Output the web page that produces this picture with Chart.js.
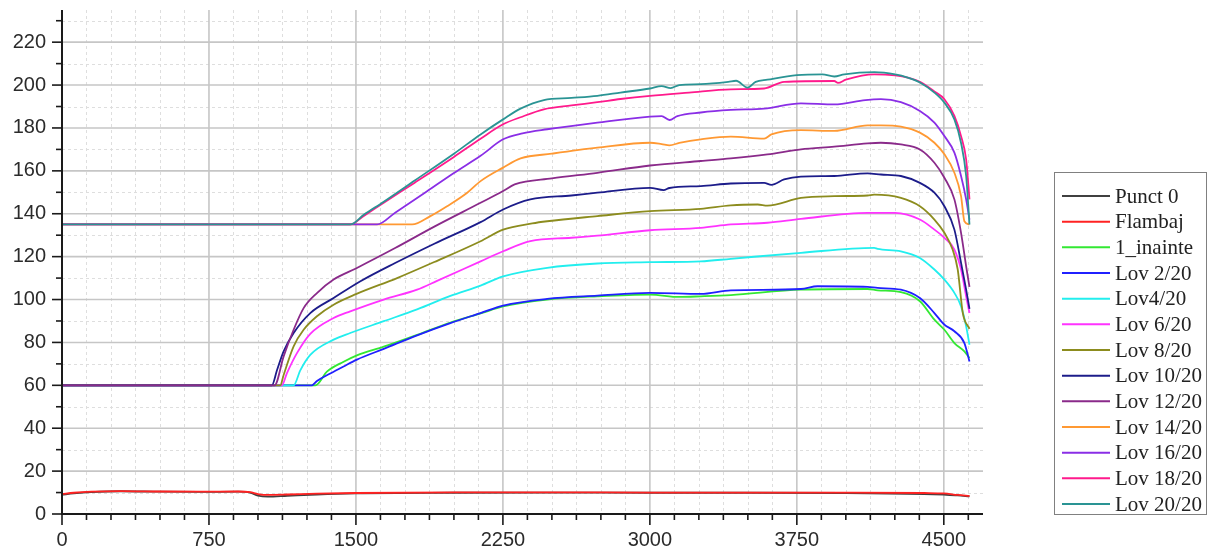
<!DOCTYPE html>
<html>
<head>
<meta charset="utf-8">
<script src="https://cdn.jsdelivr.net/npm/chart.js@4.4.0/dist/chart.umd.min.js"></script>
<style>
  html, body { margin:0; padding:0; background:#fff; }
  canvas { display:block; }
</style>
</head>
<body>
<canvas id="chart" width="1209" height="551"></canvas>
<script>
// Ticks
const xTickLabels = ['0','750','1500','2250','3000','3750','4500'];
const yTickLabels = ['0','20','40','60','80','100','120','140','160','180','200','220'];
const xMinorStep = 125, yMinorStep = 10;

// Series names + colors (legend order)
const seriesNames  = ['Punct 0','Flambaj','1_inainte','Lov 2/20','Lov4/20','Lov 6/20','Lov 8/20','Lov 10/20','Lov 12/20','Lov 14/20','Lov 16/20','Lov 18/20','Lov 20/20'];
const seriesColors = ['#404040','#ff2222','#33e833','#2020ff','#22eeee','#ff33ff','#8c8c1e','#1c1c8a','#8a2a8a','#ff9933','#8a2ee6','#ff1a8c','#2a9494'];

// [x, y] points
const punct0 = [[0,9],[60,9.6],[150,10.2],[300,10.6],[500,10.4],[700,10.3],[900,10.4],[960,10],[1000,8.6],[1050,8.1],[1150,8.5],[1300,9.1],[1500,9.6],[2000,9.9],[2500,10],[3000,9.9],[3500,9.9],[4000,9.8],[4400,9.3],[4500,9],[4570,8.7],[4631,8.2]];
const flambaj = [[0,9.3],[60,9.9],[150,10.4],[300,10.7],[500,10.5],[700,10.4],[900,10.5],[960,10.2],[1000,9.3],[1050,8.9],[1150,9.1],[1300,9.5],[1500,9.8],[2000,10.1],[2500,10.1],[3000,10],[3500,10],[4000,10],[4400,9.8],[4500,9.6],[4570,8.9],[4631,8.4]];
const inainte1 = [[0,60],[1293,60],[1352,66.4],[1437,71],[1505,74],[1642,78],[1812,83.5],[1982,89.3],[2136,93.5],[2251,96.8],[2476,100],[2732,101.5],[3001,102.3],[3150,101.2],[3260,101.5],[3413,102.1],[3771,104.6],[4111,104.9],[4162,104.3],[4281,103.4],[4378,99.2],[4452,90.6],[4503,85.9],[4554,79.7],[4605,75.8],[4631,72.7]];
const lov2 = [[0,60],[1275,60],[1301,62],[1369,65.5],[1437,68.8],[1505,72],[1642,77],[1812,83.3],[1982,89],[2136,93.7],[2251,97.2],[2476,100.3],[2732,101.8],[3001,103.1],[3260,102.6],[3413,104.3],[3771,104.9],[3856,106.2],[4111,105.9],[4162,105.4],[4281,104.6],[4378,100.7],[4452,93.7],[4503,88.3],[4554,85.2],[4605,79.7],[4631,71.1]];
const lov4 = [[0,60],[1182,60],[1216,67],[1267,74.2],[1386,81.3],[1471,84.4],[1642,89.9],[1812,95.4],[1982,101.7],[2136,106.5],[2251,110.8],[2476,114.8],[2732,116.8],[3001,117.4],[3260,117.8],[3413,119],[3771,121.8],[4145,124.1],[4162,123.6],[4281,122.5],[4378,119.4],[4452,114],[4503,109.3],[4554,103.1],[4588,96.8],[4614,87.5],[4631,78.9]];
const lov6 = [[0,60],[1122,60],[1148,65.7],[1199,75],[1267,84],[1386,91.4],[1471,94.5],[1642,100],[1812,104.6],[1914,108.7],[2136,117.8],[2251,122.5],[2390,127.2],[2600,128.8],[2732,129.8],[3001,132.3],[3260,133.4],[3413,135],[3600,135.8],[3771,137.6],[4111,140.4],[4252,140.4],[4378,137.3],[4452,132.6],[4503,128.8],[4554,123.3],[4588,114],[4614,101.5],[4631,93.7]];
const lov8 = [[0,60],[1114,60],[1131,64.8],[1182,78.2],[1233,85.9],[1301,92.2],[1386,97.6],[1500,102.5],[1710,110],[1900,117.5],[2136,127.2],[2251,132.6],[2400,135.5],[2476,136.5],[2732,138.9],[3001,141.2],[3260,142.3],[3413,143.9],[3550,144.3],[3600,143.8],[3771,147.4],[3941,148.2],[4111,148.5],[4145,148.9],[4281,147.4],[4378,143.5],[4452,137.3],[4503,131.1],[4545,123.3],[4571,114],[4597,93.7],[4631,86.3]];
const lov10 = [[0,60],[1071,60],[1097,67],[1131,75.8],[1182,84.4],[1267,93.7],[1386,100.7],[1523,108.5],[1700,117],[1900,126],[2136,136.1],[2251,142],[2390,146.7],[2600,148.5],[2732,149.8],[3001,152.1],[3070,151],[3100,152],[3260,152.9],[3413,154.1],[3583,154.4],[3620,153.5],[3685,156],[3771,157.3],[3941,157.6],[4111,158.8],[4179,158.3],[4281,157.6],[4378,154.4],[4452,149.8],[4503,143.5],[4554,132.6],[4588,117.1],[4614,104.6],[4631,95.6]];
const lov12 = [[0,60],[1085,60],[1131,73.5],[1182,85.9],[1233,96],[1301,103],[1386,109.3],[1500,114.5],[1700,124],[1900,134],[2136,145.1],[2251,150.6],[2310,153.7],[2500,156.5],[2732,159.1],[3001,162.5],[3260,164.6],[3413,165.8],[3600,167.7],[3771,170],[3941,171.3],[4111,172.8],[4179,173.1],[4281,172.3],[4378,170],[4452,163.8],[4503,156.8],[4554,146.7],[4588,131.1],[4614,115.5],[4631,105.9]];
const lov14 = [[0,135],[1787,135],[1880,138.9],[1965,143.5],[2068,149.8],[2136,155.2],[2251,161.5],[2340,165.8],[2500,168],[2732,170.8],[3001,173.1],[3060,172.5],[3100,171.9],[3150,173],[3260,174.7],[3413,176],[3583,175],[3620,177],[3771,179],[3941,178.6],[4111,181.2],[4179,181.2],[4281,180.6],[4378,177.8],[4452,173.1],[4503,167.7],[4554,159.1],[4588,148.2],[4605,136.5],[4631,135]];
const lov16 = [[0,135],[1608,135],[1700,140.5],[1863,150.5],[2000,159],[2136,167],[2251,174.7],[2350,177.5],[2476,179.4],[2732,182.5],[3001,185.3],[3060,185.5],[3100,183.7],[3140,185.5],[3260,187.2],[3413,188.4],[3583,189],[3771,191.5],[3941,191],[4100,193],[4179,193.4],[4281,192],[4378,187.9],[4452,182.5],[4503,176.2],[4554,168.5],[4588,157.6],[4614,146.7],[4631,137.3]];
const lov18 = [[0,135],[1471,135],[1540,139],[1640,145],[1800,154.5],[2000,166.5],[2136,175],[2251,181.7],[2340,185],[2459,188.7],[2600,190.5],[2732,192],[2850,193.5],[3001,195],[3200,196.5],[3413,198],[3583,198.4],[3685,201.5],[3941,201.9],[3960,201],[4000,202.5],[4145,205],[4252,204.5],[4316,203.5],[4378,201.5],[4452,197],[4503,193.4],[4554,185.6],[4588,176.2],[4614,165.3],[4631,146.7]];
const lov20 = [[0,135],[1471,135],[1540,139.5],[1640,145.5],[1800,155.5],[2000,168],[2136,177],[2251,184],[2340,189],[2459,193],[2600,194],[2732,195],[2850,196.5],[3001,198.4],[3060,199.5],[3106,198.6],[3150,200],[3260,200.4],[3400,201.5],[3440,202],[3498,198.8],[3540,201.5],[3600,202.5],[3750,204.6],[3880,205],[3941,204],[3992,205],[4145,206],[4252,205],[4316,203.5],[4378,201.2],[4452,196.5],[4503,191.8],[4554,184],[4588,173],[4614,157.6],[4631,135]];

const seriesData = [punct0, flambaj, inainte1, lov2, lov4, lov6, lov8, lov10, lov12, lov14, lov16, lov18, lov20];

// Grilă + axe + marcaje (plugin)
const axesPlugin = {
  id: 'axesGrid',
  beforeDatasetsDraw(chart){
    const {ctx, chartArea:a, scales:{x, y}} = chart;
    ctx.save();
    // minor dashed
    ctx.lineWidth = 1; ctx.strokeStyle = '#dedede'; ctx.setLineDash([3,3]);
    x.ticks.forEach(t => { if (t.value % 750 !== 0){ const px = Math.round(x.getPixelForValue(t.value))+0.5; ctx.beginPath(); ctx.moveTo(px,a.top); ctx.lineTo(px,a.bottom); ctx.stroke(); }});
    y.ticks.forEach(t => { if (t.value % 20 !== 0){ const py = Math.round(y.getPixelForValue(t.value))+0.5; ctx.beginPath(); ctx.moveTo(a.left,py); ctx.lineTo(a.right,py); ctx.stroke(); }});
    // major solid
    ctx.setLineDash([]); ctx.lineWidth = 1.6; ctx.strokeStyle = '#c6c6c6';
    x.ticks.forEach(t => { if (t.value % 750 === 0 && t.value > 0){ const px = x.getPixelForValue(t.value); ctx.beginPath(); ctx.moveTo(px,a.top); ctx.lineTo(px,a.bottom); ctx.stroke(); }});
    y.ticks.forEach(t => { if (t.value % 20 === 0 && t.value > 0){ const py = y.getPixelForValue(t.value); ctx.beginPath(); ctx.moveTo(a.left,py); ctx.lineTo(a.right,py); ctx.stroke(); }});
    ctx.restore();
  },
  afterDatasetsDraw(chart){
    const {ctx, chartArea:a, scales:{x, y}} = chart;
    ctx.save();
    ctx.strokeStyle = '#1a1a1a'; ctx.lineWidth = 2;
    ctx.beginPath(); ctx.moveTo(a.left, a.top); ctx.lineTo(a.left, a.bottom); ctx.lineTo(a.right, a.bottom); ctx.stroke();
    ctx.lineWidth = 1.6;
    y.ticks.forEach(t => { const py = y.getPixelForValue(t.value); const len = t.value % 20 === 0 ? 10 : 6; ctx.beginPath(); ctx.moveTo(a.left-len,py); ctx.lineTo(a.left,py); ctx.stroke(); });
    x.ticks.forEach(t => { const px = x.getPixelForValue(t.value); const len = t.value % 750 === 0 ? 11 : 6; ctx.beginPath(); ctx.moveTo(px,a.bottom); ctx.lineTo(px,a.bottom+len); ctx.stroke(); });
    ctx.restore();
  },
  afterDraw(chart){
    // legenda cu chenar
    const ctx = chart.ctx;
    ctx.save();
    ctx.strokeStyle = '#808080'; ctx.lineWidth = 1;
    ctx.strokeRect(1054.5, 172.5, 152, 342);
    ctx.font = '21px "Liberation Serif", "Times New Roman", serif';
    ctx.textBaseline = 'middle'; ctx.textAlign = 'left';
    chart.data.datasets.forEach((ds, i) => {
      const cy = 196 + i*25.67;
      ctx.strokeStyle = ds.borderColor; ctx.lineWidth = 2;
      ctx.beginPath(); ctx.moveTo(1062, cy); ctx.lineTo(1110, cy); ctx.stroke();
      ctx.fillStyle = '#222';
      ctx.fillText(ds.label, 1115, cy + 1);
    });
    ctx.restore();
  }
};

const datasets = seriesData.map((pts, i) => ({
  label: seriesNames[i],
  data: pts.map(p => ({x:p[0], y:p[1]})),
  borderColor: seriesColors[i],
  backgroundColor: seriesColors[i],
  borderWidth: 1.8,
  pointRadius: 0,
  cubicInterpolationMode: 'monotone',
  order: seriesData.length - i
}));

new Chart(document.getElementById('chart').getContext('2d'), {
  type: 'line',
  data: { datasets },
  options: {
    responsive: false,
    animation: false,
    devicePixelRatio: 1,
    layout: { padding: { left: 0, top: 10, right: 226, bottom: 0 } },
    plugins: { legend: { display: false }, tooltip: { enabled: false } },
    scales: {
      x: {
        type: 'linear', min: 0, max: 4700,
        afterBuildTicks: s => { const t = []; for (let v = 0; v <= 4700; v += xMinorStep) t.push({value: v}); s.ticks = t; },
        afterFit: s => { s.height = 37; s.paddingLeft = 0; s.paddingRight = 0; },
        grid: { display: false, drawTicks: false },
        border: { display: false },
        ticks: {
          autoSkip: false, maxRotation: 0, padding: 14,
          color: '#2b2b2b', font: { family: '"Liberation Sans", Arial, sans-serif', size: 20 },
          callback: v => xTickLabels.includes(String(v)) ? String(v) : ''
        }
      },
      y: {
        type: 'linear', min: 0, max: 235,
        afterBuildTicks: s => { const t = []; for (let v = 0; v <= 230; v += yMinorStep) t.push({value: v}); s.ticks = t; },
        afterFit: s => { s.width = 62; s.paddingTop = 0; s.paddingBottom = 0; },
        grid: { display: false, drawTicks: false },
        border: { display: false },
        ticks: {
          autoSkip: false, padding: 16,
          color: '#2b2b2b', font: { family: '"Liberation Sans", Arial, sans-serif', size: 20 },
          callback: v => yTickLabels.includes(String(v)) ? String(v) : ''
        }
      }
    }
  },
  plugins: [axesPlugin]
});
</script>
</body>
</html>
